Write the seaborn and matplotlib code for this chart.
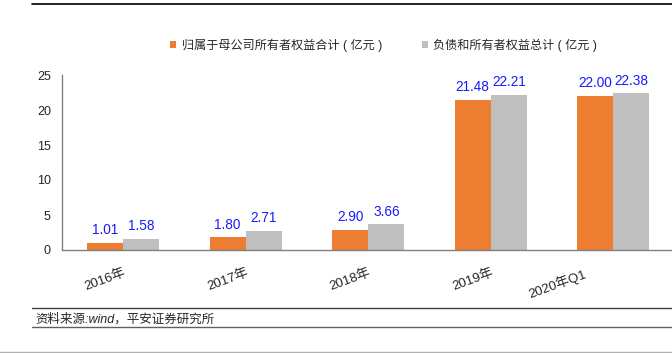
#%%
'''PACKAGE IMPORTS'''
import pandas as pd
import matplotlib
matplotlib.use('Agg')
import matplotlib.pyplot as plt
import matplotlib.transforms as mtransforms
import seaborn as sns

# %%
'''Chart data'''
years = ['2016年', '2017年', '2018年', '2019年', '2020年Q1']
parentEquity = [1.01, 1.80, 2.90, 21.48, 22.00]
totalLiabEquity = [1.58, 2.71, 3.66, 22.21, 22.38]
seriesNames = ['归属于母公司所有者权益合计 ( 亿元 )', '负债和所有者权益总计 ( 亿元 )']
barColors = ['#ED7D31', '#BFBFBF']
yTicks = [0, 5, 10, 15, 20, 25]

df = pd.DataFrame({'year': years * 2,
                   'value': parentEquity + totalLiabEquity,
                   'series': [seriesNames[0]] * len(years) + [seriesNames[1]] * len(years)})

# %%
sns.set_style('white')
plt.rcParams['font.family'] = ['Liberation Sans', 'Noto Sans CJK SC', 'DejaVu Sans']

fig = plt.figure(figsize=(6.72, 3.53), dpi=100)
ax = fig.add_axes([62/672, 103/353, 612.5/672, 175/353])

sns.barplot(data=df, x='year', y='value', hue='series',
            palette=barColors, width=0.59, saturation=1,
            edgecolor='none', ax=ax)

for cont in ax.containers:
    ax.bar_label(cont, fmt='%.2f', padding=4, fontsize=9.8, color='#1a1aff')

#Axis specs
ax.set_ylim(0, 25)
ax.set_yticks(yTicks)
ax.set_xlim(-0.5, len(years) - 0.5)
ax.set_xlabel('')
ax.set_ylabel('')
ax.tick_params(axis='y', length=3, color='#808080', labelsize=9, pad=5)
ax.tick_params(axis='x', length=0, labelsize=9.5, pad=12)
ax.set_xticks(range(len(years)))
ax.set_xticklabels(years, rotation=20, ha='right', va='top', rotation_mode='anchor')
ax.set_xticks([i + 0.5 for i in range(len(years) - 1)], minor=True)
ax.tick_params(axis='x', which='minor', direction='in', length=3, color='#808080')
for side in ['top', 'right']:
    ax.spines[side].set_visible(False)
for side in ['left', 'bottom']:
    ax.spines[side].set_color('#808080')
    ax.spines[side].set_linewidth(1)

#last label is pulled in to stay inside the frame
lastLab = ax.get_xticklabels()[-1]
lastLab.set_transform(lastLab.get_transform() +
                      mtransforms.ScaledTranslation(-0.30, 0, fig.dpi_scale_trans))

#Legend
handles, labels = ax.get_legend_handles_labels()
ax.legend(handles, labels, loc='center', bbox_to_anchor=(0.525, 1.171),
          ncol=2, frameon=False, fontsize=8.7, handlelength=0.5, handleheight=0.5,
          columnspacing=3.3, handletextpad=0.45)

#Frame lines and source note
fig.add_artist(plt.Line2D([32/672, 1], [1 - 4/353, 1 - 4/353], color='black', linewidth=1.2))
fig.add_artist(plt.Line2D([32/672, 1], [1 - 308/353, 1 - 308/353], color='#404040', linewidth=1))
fig.add_artist(plt.Line2D([32/672, 1], [1 - 327/353, 1 - 327/353], color='#606060', linewidth=1))
fig.add_artist(plt.Line2D([0, 1], [1 - 352/353, 1 - 352/353], color='#b0b0b0', linewidth=1))
fig.text(35/672, 1 - 319/353, '资料来源:wind，平安证券研究所', fontsize=9,
         style='italic', va='center', ha='left')

plt.savefig('out.png', dpi=100)
